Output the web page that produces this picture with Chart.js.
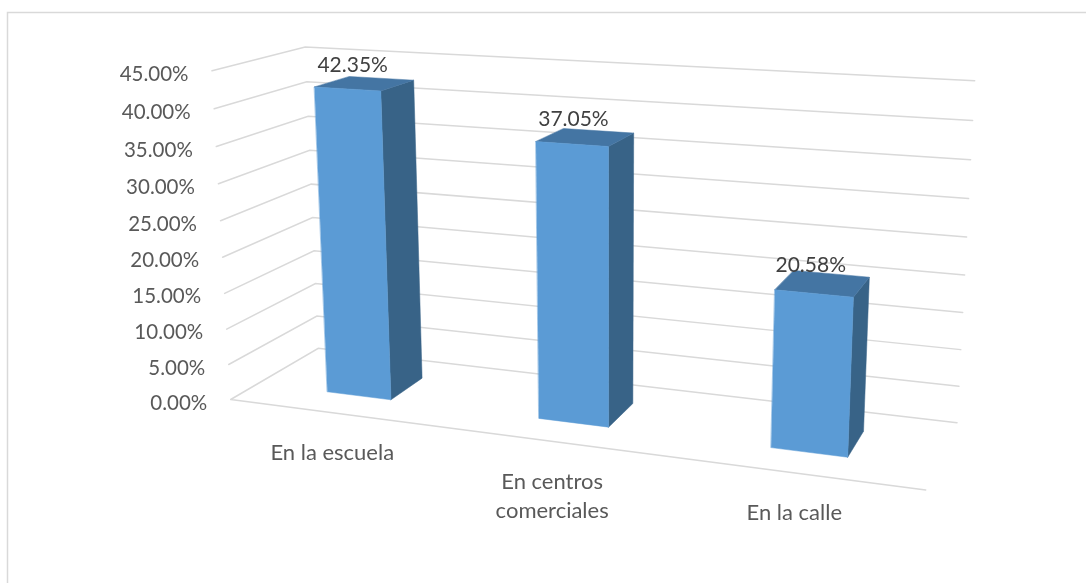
<!DOCTYPE html>
<html>
<head>
<meta charset="utf-8">
<title>Chart</title>
<script src="https://cdn.jsdelivr.net/npm/chart.js@4/dist/chart.umd.min.js"></script>
<style>
    html, body { margin: 0; padding: 0; background: #fff; }
    canvas { display: block; }
</style>
</head>
<body>
<canvas id="chart" width="1086" height="583"></canvas>
<script>
// Chart data
const categories = [['En la escuela'], ['En centros', 'comerciales'], ['En la calle']];
const percentages = [42.35, 37.05, 20.58];
const axisMax = 45;
const axisStep = 5;

// Where the corners of the 3D box land on the page (used for the perspective only)
const floorFrontLeft = [230.7, 399.5];
const floorFrontRight = [925.7, 490];
const floorBackRight = [957, 422.7];
const floorBackLeft = [318.3, 348.3];
const topFrontLeft = [212, 70.7];
const topBackLeft = [306, 46.7];
const topBackRight = [977, 81];

// Depth of the bars inside the box (0 = front, 1 = back)
const barFront = 0.3;
const barBack = 0.7;

const FONT = 'Lato, "Open Sans", sans-serif';

function homog(p) { return [p[0], p[1], 1]; }
function cross(a, b) {
    return [a[1] * b[2] - a[2] * b[1], a[2] * b[0] - a[0] * b[2], a[0] * b[1] - a[1] * b[0]];
}
function dot(a, b) { return a[0] * b[0] + a[1] * b[1] + a[2] * b[2]; }
function scale(a, k) { return [a[0] * k, a[1] * k, a[2] * k]; }
function addScaled(a, k, b) { return [a[0] + k * b[0], a[1] + k * b[1], a[2] + k * b[2]]; }

// Build the projective camera from the corners above
function buildCamera() {
    const O = homog(floorFrontLeft);
    const X = homog(floorFrontRight);
    const Y = homog(topFrontLeft);
    const Z = homog(floorBackLeft);
    const R = homog(floorBackRight);

    // a*X + c*Z - n*R = O
    const det = dot(X, cross(Z, R));
    const a = dot(O, cross(Z, R)) / det;
    const c = dot(X, cross(O, R)) / det;
    const colU = addScaled(scale(X, a), -1, O);
    const colW = addScaled(scale(Z, c), -1, O);

    // height of the box, fitted on the two back corners
    const wallLeft = addScaled(scale(Z, c), -1, O);
    const wallRight = addScaled(wallLeft, 1, colU);
    let num = 0, den = 0;
    [[wallLeft, homog(topBackLeft)], [wallRight, homog(topBackRight)]].forEach(pair => {
        const yt = cross(Y, pair[1]);
        num -= dot(yt, cross(pair[0], pair[1]));
        den += dot(yt, yt);
    });
    const b = num / den;
    const colV = addScaled(scale(Y, b), -1, O);

    return function(u, v, w) {
        let p = addScaled(O, u, colU);
        p = addScaled(p, v, colV);
        p = addScaled(p, w, colW);
        return { x: p[0] / p[2], y: p[1] / p[2] };
    };
}

const project = buildCamera();

function polygon(ctx, points, fill) {
    ctx.beginPath();
    points.forEach((p, i) => i ? ctx.lineTo(p.x, p.y) : ctx.moveTo(p.x, p.y));
    ctx.closePath();
    ctx.fillStyle = fill;
    ctx.fill();
    ctx.strokeStyle = fill;
    ctx.lineWidth = 0.5;
    ctx.stroke();
}

const perspectivePlugin = {
    id: 'perspective',
    beforeDraw(chart) {
        // Outer frame, open on the right and at the bottom
        const ctx = chart.ctx;
        ctx.save();
        ctx.strokeStyle = '#d9d9d9';
        ctx.lineWidth = 1.5;
        ctx.beginPath();
        ctx.moveTo(7.5, chart.height);
        ctx.lineTo(7.5, 12.5);
        ctx.lineTo(chart.width, 12.5);
        ctx.stroke();
        ctx.restore();
    },
    afterDatasetsDraw(chart) {
        const ctx = chart.ctx;
        const area = chart.chartArea;
        const yScale = chart.scales.y;
        const toU = px => (px - area.left) / (area.right - area.left);
        const toV = py => (area.bottom - py) / (area.bottom - area.top);

        ctx.save();

        // Gridlines and value labels
        ctx.lineCap = 'round';
        ctx.textBaseline = 'middle';
        yScale.ticks.forEach(tick => {
            const v = toV(yScale.getPixelForValue(tick.value));
            const a = project(0, v, 0), b = project(0, v, 1), c = project(1, v, 1);
            ctx.strokeStyle = '#d9d9d9';
            ctx.lineWidth = 1.5;
            ctx.beginPath();
            ctx.moveTo(a.x, a.y);
            ctx.lineTo(b.x, b.y);
            ctx.lineTo(c.x, c.y);
            if (tick.value === 0) {
                const d = project(1, 0, 0);
                ctx.moveTo(a.x, a.y);
                ctx.lineTo(d.x, d.y);
            }
            ctx.stroke();
            ctx.fillStyle = '#595959';
            ctx.font = '20.5px ' + FONT;
            ctx.textAlign = 'right';
            ctx.fillText(tick.label, a.x - 23.5, a.y + 3.5);
        });

        // Bars, using the positions the bar controller worked out
        const bars = chart.getDatasetMeta(0).data;
        bars.forEach(bar => {
            const u0 = toU(bar.x - bar.width / 2);
            const u1 = toU(bar.x + bar.width / 2);
            const top = toV(bar.y);
            const base = toV(bar.base);
            const P = project;

            polygon(ctx, [P(u1, base, barFront), P(u1, base, barBack), P(u1, top, barBack), P(u1, top, barFront)], '#386387');
            polygon(ctx, [P(u0, top, barFront), P(u1, top, barFront), P(u1, top, barBack), P(u0, top, barBack)], '#4475a3');
            polygon(ctx, [P(u0, base, barFront), P(u1, base, barFront), P(u1, top, barFront), P(u0, top, barFront)], '#5b9bd5');
        });

        // Data labels
        ctx.fillStyle = '#404040';
        ctx.font = '21px ' + FONT;
        ctx.textAlign = 'center';
        bars.forEach((bar, i) => {
            const p = project(toU(bar.x), toV(bar.y), (barFront + barBack) / 2);
            ctx.fillText(percentages[i].toFixed(2) + '%', p.x - 12, p.y - 18.5);
        });

        // Category labels
        ctx.fillStyle = '#595959';
        ctx.font = '22px ' + FONT;
        bars.forEach((bar, i) => {
            const p = project(toU(bar.x), 0, 0);
            categories[i].forEach((line, n) => {
                ctx.fillText(line, p.x - 1, p.y + 40 + n * 29);
            });
        });

        ctx.restore();
    }
};

new Chart(document.getElementById('chart'), {
    type: 'bar',
    data: {
        labels: categories.map(c => c.join(' ')),
        datasets: [{
            data: percentages,
            backgroundColor: 'rgba(0,0,0,0)',
            categoryPercentage: 1,
            barPercentage: 0.31
        }]
    },
    options: {
        responsive: false,
        animation: false,
        layout: { padding: { left: 231, right: 160, top: 71, bottom: 183 } },
        plugins: {
            legend: { display: false },
            tooltip: { enabled: false }
        },
        scales: {
            x: {
                grid: { display: false },
                border: { display: false },
                ticks: { display: false }
            },
            y: {
                min: 0,
                max: axisMax,
                grid: { display: false },
                border: { display: false },
                ticks: {
                    display: false,
                    stepSize: axisStep,
                    callback: function(value) {
                        return value.toFixed(2) + '%';
                    }
                }
            }
        }
    },
    plugins: [perspectivePlugin]
});
</script>
</body>
</html>
